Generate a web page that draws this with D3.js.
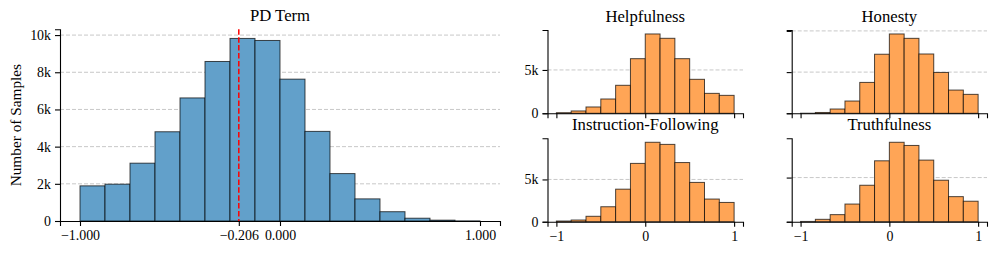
<!DOCTYPE html>
<html>
<head>
<meta charset="utf-8">
<script src="https://cdn.jsdelivr.net/npm/d3@7"></script>
<style>
  body { margin: 0; background: #fff; }
</style>
</head>
<body>
<div id="chart"></div>
<script>
// PD term histogram, 16 bins over [-1, 1]
const pdCounts = [1890, 1980, 3110, 4800, 6620, 8580, 9820, 9710, 7630, 4820, 2550, 1190, 500, 150, 45, 8];
const pdRange = [-1, 1];
const pdMedian = -0.206;
const pdXTicks = [-1, -0.206, 0, 1];
const pdYTicks = [0, 2000, 4000, 6000, 8000, 10000];

// per-attribute histograms, 12 bins over [-1, 1]
const attrRange = [-1, 1];
const helpfulnessCounts = [70, 270, 730, 1650, 3230, 6300, 9150, 8650, 6300, 3920, 2300, 2070];
const honestyCounts = [10, 100, 520, 1490, 3750, 7170, 9630, 9100, 7200, 4960, 2820, 2300];
const instructionCounts = [80, 200, 640, 1770, 3850, 6900, 9400, 9150, 7000, 4650, 2680, 2280];
const truthfulnessCounts = [30, 270, 800, 2000, 4130, 6900, 9000, 8640, 6980, 4700, 2840, 2320];
const attrXTicks = [-1, 0, 1];
const attrYTicks = [0, 5000, 10000];

const width = 997;
const height = 254;
const serif = "'Liberation Serif', 'Times New Roman', Times, serif";

const svg = d3.select('#chart')
  .append('svg')
  .attr('width', width)
  .attr('height', height)
  .attr('font-family', serif);

function binEdges(range, n) {
  return d3.range(n + 1).map((i) => range[0] + (i * (range[1] - range[0])) / n);
}

const kFormat = (d) => (d === 0 ? '0' : `${d / 1000}k`);

function styleAxis(a) {
  a.attr('font-family', serif);
  a.selectAll('text')
    .attr('font-size', 13.9)
    .attr('font-family', serif)
    .attr('fill', '#000');
  a.selectAll('.domain, .tick line')
    .attr('stroke', '#000')
    .attr('stroke-width', 1.1);
}

function histogram(o) {
  const edges = binEdges(o.range, o.counts.length);
  const bins = o.counts.map((c, i) => ({ x0: edges[i], x1: edges[i + 1], count: c }));

  const x = d3.scaleLinear().domain([-1.1, 1.1]).range([o.left, o.right]);
  const y = d3.scaleLinear()
    .domain([0, d3.max(o.counts) * 1.05])
    .range([o.bottom, o.top]);
  const yTicks = o.yTicks.filter((t) => t <= y.domain()[1]);

  const g = svg.append('g');

  // grid
  g.append('g')
    .selectAll('line')
    .data(yTicks.filter((t) => t > 0))
    .join('line')
    .attr('x1', o.left)
    .attr('x2', o.right)
    .attr('y1', (d) => y(d))
    .attr('y2', (d) => y(d))
    .attr('stroke', '#c8c8c8')
    .attr('stroke-width', 1)
    .attr('stroke-dasharray', '4,2');

  g.append('g')
    .selectAll('rect')
    .data(bins)
    .join('rect')
    .attr('x', (d) => x(d.x0))
    .attr('y', (d) => y(d.count))
    .attr('width', (d) => x(d.x1) - x(d.x0))
    .attr('height', (d) => y(0) - y(d.count))
    .attr('fill', o.color)
    .attr('stroke', '#000')
    .attr('stroke-opacity', 0.7)
    .attr('stroke-width', 1);

  if (o.marker !== undefined) {
    g.append('line')
      .attr('x1', x(o.marker))
      .attr('x2', x(o.marker))
      .attr('y1', o.top)
      .attr('y2', o.bottom)
      .attr('stroke', 'red')
      .attr('stroke-width', 1.5)
      .attr('stroke-dasharray', '5.5,2.4');
  }

  const xAxis = d3.axisBottom(x)
    .tickValues(o.xTicks)
    .tickSizeOuter(0)
    .tickSize(5)
    .tickPadding(4)
    .tickFormat(o.showX ? o.xFormat : () => '');

  const yAxis = d3.axisLeft(y)
    .tickValues(yTicks)
    .tickSizeOuter(0)
    .tickSize(5)
    .tickPadding(4)
    .tickFormat(o.showY ? kFormat : () => '');

  g.append('g')
    .attr('transform', `translate(0,${o.bottom})`)
    .call(xAxis)
    .call(styleAxis);

  g.append('g')
    .attr('transform', `translate(${o.left},0)`)
    .call(yAxis)
    .call(styleAxis);

  g.append('text')
    .attr('x', (o.left + o.right) / 2)
    .attr('y', o.top - 8.5)
    .attr('text-anchor', 'middle')
    .attr('font-family', serif)
    .attr('font-size', 16.7)
    .text(o.title);

  if (o.yLabel) {
    g.append('text')
      .attr('transform', `translate(21,${(o.top + o.bottom) / 2}) rotate(-90)`)
      .attr('text-anchor', 'middle')
      .attr('font-family', serif)
      .attr('font-size', 15.3)
      .text(o.yLabel);
  }
}

const blue = '#62a0ca';
const orange = '#ffa556';

histogram({
  title: 'PD Term', counts: pdCounts, range: pdRange, color: blue,
  left: 60, right: 500, top: 29.3, bottom: 221,
  xTicks: pdXTicks, yTicks: pdYTicks, xFormat: d3.format('.3f'),
  showX: true, showY: true, marker: pdMedian, yLabel: 'Number of Samples',
});

histogram({
  title: 'Helpfulness', counts: helpfulnessCounts, range: attrRange, color: orange,
  left: 547.5, right: 743, top: 30, bottom: 113.3,
  xTicks: attrXTicks, yTicks: attrYTicks, xFormat: d3.format('d'),
  showX: false, showY: true,
});

histogram({
  title: 'Honesty', counts: honestyCounts, range: attrRange, color: orange,
  left: 791.7, right: 987, top: 30, bottom: 113.3,
  xTicks: attrXTicks, yTicks: attrYTicks, xFormat: d3.format('d'),
  showX: false, showY: false,
});

histogram({
  title: 'Instruction-Following', counts: instructionCounts, range: attrRange, color: orange,
  left: 547.5, right: 743, top: 138.3, bottom: 221.7,
  xTicks: attrXTicks, yTicks: attrYTicks, xFormat: d3.format('d'),
  showX: true, showY: true,
});

histogram({
  title: 'Truthfulness', counts: truthfulnessCounts, range: attrRange, color: orange,
  left: 791.7, right: 987, top: 138.3, bottom: 221.7,
  xTicks: attrXTicks, yTicks: attrYTicks, xFormat: d3.format('d'),
  showX: true, showY: false,
});
</script>
</body>
</html>
